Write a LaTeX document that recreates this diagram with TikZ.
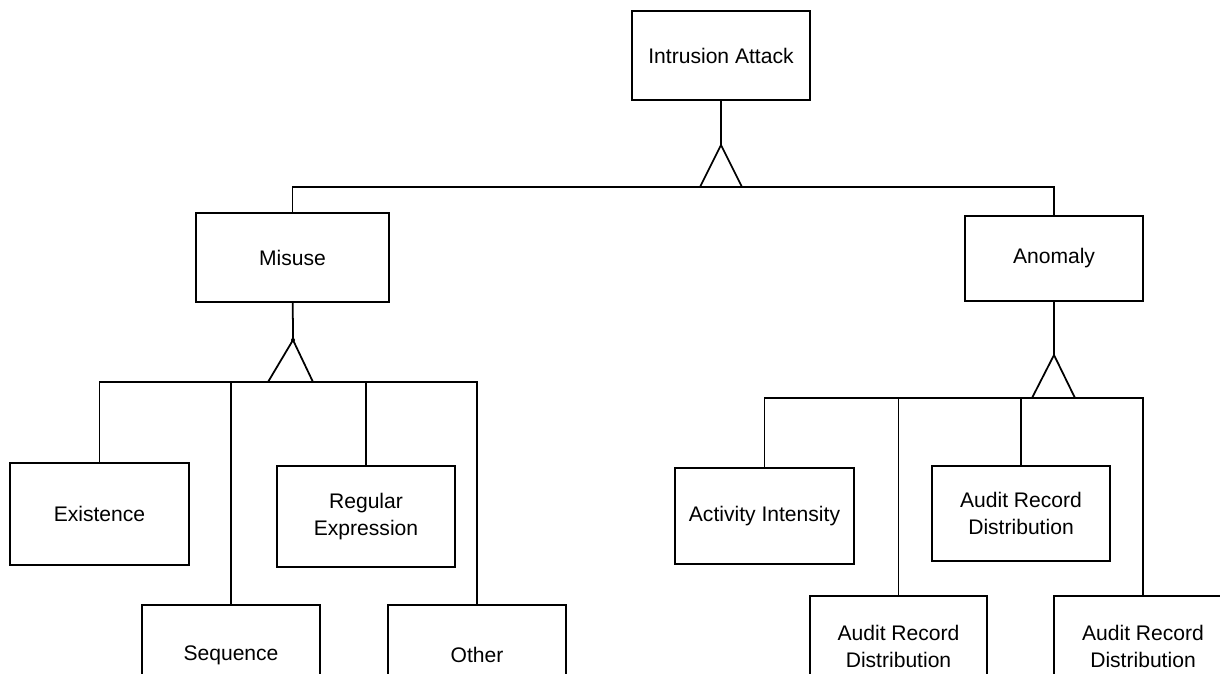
\documentclass[tikz,border=0pt]{standalone}
\usepackage{fontspec}
\setmainfont{Liberation Sans}
\tikzset{
  box/.style={draw, line width=1pt, minimum width=3.56cm, minimum height=1.78cm,
    inner sep=0pt, align=center, font=\fontsize{12}{15.4}\selectfont},
  link/.style={line width=1pt},
}
\begin{document}
\begin{tikzpicture}[x=0.02cm, y=-0.02cm]
\clip (0,0) rectangle (1220,673);
\fill[white] (0,0) rectangle (1220,673);
% top of the tree
\node[box] (attack) at (721,55.5) {Intrusion Attack};
\node[box, minimum width=3.86cm] (misuse) at (292.5,257.5) {Misuse};
\node[box, minimum height=1.7cm] (anomaly) at (1054,258.5) {Anomaly};
% misuse kinds
\node[box, minimum width=3.58cm, minimum height=2.04cm] (exist) at (99.5,514) {Existence};
\node[box, minimum height=2cm] (seq) at (231,655) {Sequence};
\node[box, minimum height=2.02cm] (regex) at (366,516.5) {Regular\\Expression};
\node[box, minimum height=2cm] (other) at (477,655) {Other};
% anomaly kinds
\node[box, minimum width=3.58cm, minimum height=1.92cm] (activity) at (764.5,516) {Activity Intensity};
\node[box, minimum width=3.54cm, minimum height=2cm] (audita) at (898.5,646) {Audit Record\\Distribution};
\node[box, minimum height=1.9cm] (auditb) at (1021,513.5) {Audit Record\\Distribution};
\node[box, minimum height=2cm] (auditc) at (1143,646) {Audit Record\\Distribution};

% bus levels and triangle tips
\coordinate (topbus) at (721,187);
\coordinate (attacktip) at (721,145);
\coordinate (misbus) at (293,382);
\coordinate (mistip) at (293,340);
\coordinate (anobus) at (1054,398);
\coordinate (anotip) at (1054,355);

\draw[link] (attack) -- (attacktip);
\draw[link] (attacktip) -- ++(-21,42) (attacktip) -- ++(21,42);
\draw[link] (misuse) |- (topbus) -| (anomaly);

\draw[link] (misuse) -- (mistip);
\draw[link] (mistip) -- ++(-25,42) (mistip) -- ++(20,42);
\fill (mistip) circle (2);
\draw[link] (exist) |- (misbus) -| (other);
\draw[link] (seq) -- (seq |- misbus);
\draw[link] (regex) -- (regex |- misbus);

\draw[link] (anomaly) -- (anotip);
\draw[link] (anotip) -- ++(-22,43) (anotip) -- ++(21,43);
\draw[link] (activity) |- (anobus) -| (auditc);
\draw[link] (audita) -- (audita |- anobus);
\draw[link] (auditb) -- (auditb |- anobus);
\end{tikzpicture}
\end{document}
